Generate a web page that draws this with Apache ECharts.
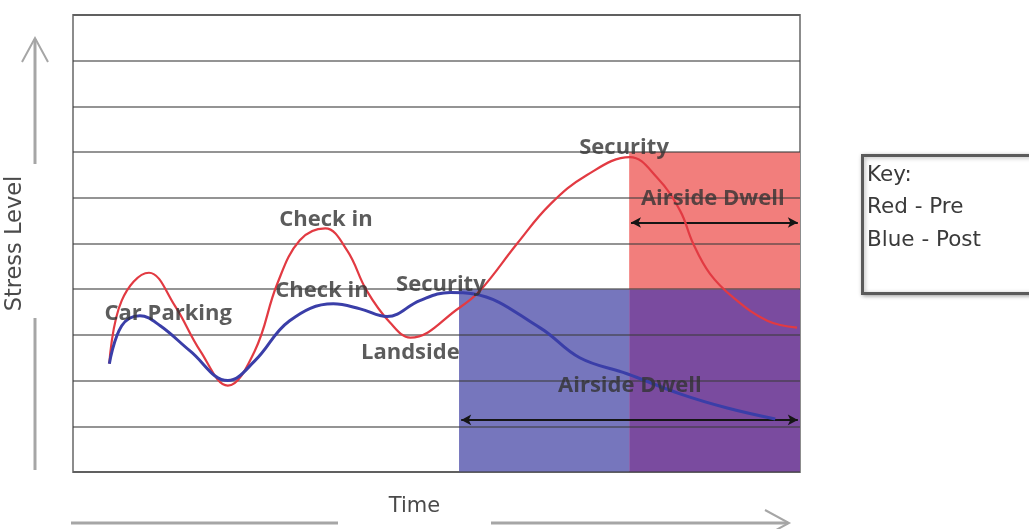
<!DOCTYPE html>
<html><head><meta charset="utf-8">
<script src="https://cdn.jsdelivr.net/npm/echarts@6/dist/echarts.min.js"></script>
<style>html,body{margin:0;padding:0;background:#fff}#c{width:1029px;height:529px}</style>
</head><body><div id="c"></div>
<script>
// Time runs 0..100 across the plot, stress level 0..10
const preCurve = [
  [5.0,2.37],[6.7,3.75],[10.45,4.36],[14.0,3.64],[17.5,2.65],[21.3,1.89],
  [25.0,2.65],[28.1,4.12],[31.2,5.07],[34.7,5.33],[37.7,4.85],[40.4,3.97],
  [43.6,3.27],[46.4,2.94],[53.2,3.6],[56.0,3.97],[61.1,5.0],[65.6,5.85],
  [70.7,6.5],[76.6,6.89],[80.3,6.45],[83.5,5.72],[85.3,5.0],[87.6,4.34],
  [90.8,3.82],[95.5,3.31],[99.6,3.16]
];
const postCurve = [
  [5.0,2.37],[6.7,3.2],[9.2,3.42],[12.0,3.2],[16.1,2.65],[21.3,2.0],
  [25.0,2.43],[29.8,3.31],[35.8,3.68],[39.5,3.57],[43.2,3.4],[47.7,3.75],
  [51.9,3.93],[55.0,3.9],[64.2,3.16],[69.7,2.5],[76.2,2.15],[83.5,1.71],
  [90.0,1.4],[96.6,1.16]
];
// zones: [xStart, xEnd, yLow, yHigh]
const zones = [
  [53.1, 76.5, 0, 4],
  [76.5, 100, 0, 4],
  [76.5, 100, 4, 7]
];
const zoneColors = ['#7676bd', '#7a4b9f', '#f27e7c'];
const annotations = [
  [13.1, 3.46, 'Car Parking'],
  [34.8, 5.52, 'Check in'],
  [34.25, 3.97, 'Check in'],
  [50.6, 4.1, 'Security'],
  [46.4, 2.6, 'Landside'],
  [75.8, 7.1, 'Security'],
  [88.0, 5.97, 'Airside Dwell'],
  [76.6, 1.88, 'Airside Dwell']
];
// dwell arrows: [xStart, xEnd, y]
const dwellArrows = [
  [76.75, 99.7, 5.46],
  [53.4, 99.7, 1.14]
];
const keyLines = ['Key:', 'Red - Pre', 'Blue - Post'];
const axisNames = { y: 'Stress Level', x: 'Time' };

const chart = echarts.init(document.getElementById('c'), null, {renderer: 'canvas'});
const gray = '#a6a6a6';
chart.setOption({
  animation: false,
  backgroundColor: '#ffffff',
  title: {
    text: keyLines.join('\n'),
    left: 862, top: 155,
    padding: [4, 60, 37, 5],
    borderColor: '#5a5a5a', borderWidth: 3,
    backgroundColor: '#fff',
    shadowBlur: 4, shadowColor: 'rgba(0,0,0,0.3)', shadowOffsetX: 1, shadowOffsetY: 1,
    textStyle: { fontFamily: 'DejaVu Sans', fontSize: 21.5, fontWeight: 'normal', color: '#3a3a3a', lineHeight: 32.5 }
  },
  grid: {
    left: 73, right: 229, top: 15, bottom: 57, outerBoundsMode: 'none', containLabel: false,
    show: true, borderColor: '#8c8c8c', borderWidth: 2, backgroundColor: '#fff'
  },
  xAxis: {
    type: 'value', min: 0, max: 100,
    name: axisNames.x, nameLocation: 'middle', nameGap: 24,
    nameTextStyle: { fontFamily: 'DejaVu Sans', fontSize: 21, color: '#4a4a4a', padding: [0, 44, 0, 0] },
    axisLine: { show: false }, axisTick: { show: false }, axisLabel: { show: false },
    splitLine: { show: false }
  },
  yAxis: {
    type: 'value', min: 0, max: 10, interval: 1, z: 3,
    name: axisNames.y, nameLocation: 'middle', nameGap: 46, nameRotate: 90,
    nameTextStyle: { fontFamily: 'DejaVu Sans', fontSize: 22.5, color: '#4a4a4a' },
    axisLine: { show: false }, axisTick: { show: false }, axisLabel: { show: false },
    splitLine: { show: true, lineStyle: { color: 'rgba(60,60,60,0.55)', width: 2 } }
  },
  graphic: [
    { type: 'line', shape: { x1: 35, y1: 164, x2: 35, y2: 39 }, style: { stroke: gray, lineWidth: 3 } },
    { type: 'polyline', shape: { points: [[22, 62], [35, 38], [48, 62]] }, style: { stroke: gray, lineWidth: 2, fill: null } },
    { type: 'line', shape: { x1: 35, y1: 318, x2: 35, y2: 470 }, style: { stroke: gray, lineWidth: 3 } },
    { type: 'line', shape: { x1: 71, y1: 523, x2: 338, y2: 523 }, style: { stroke: gray, lineWidth: 3 } },
    { type: 'line', shape: { x1: 491, y1: 523, x2: 788, y2: 523 }, style: { stroke: gray, lineWidth: 3 } },
    { type: 'polyline', shape: { points: [[765, 510], [789, 523], [765, 536]] }, style: { stroke: gray, lineWidth: 2, fill: null } }
  ],
  series: [
    {
      type: 'custom', z: 1, silent: true,
      encode: { x: [0, 1], y: [2, 3] },
      data: zones,
      renderItem: (params, api) => {
        const p0 = api.coord([api.value(0), api.value(3)]);
        const p1 = api.coord([api.value(1), api.value(2)]);
        return { type: 'rect', shape: { x: p0[0], y: p0[1], width: p1[0] - p0[0], height: p1[1] - p0[1] },
                 style: { fill: zoneColors[params.dataIndex] } };
      }
    },
    {
      name: 'Pre', type: 'line', z: 5, smooth: 0.4, showSymbol: false, symbol: 'none',
      data: preCurve, lineStyle: { color: '#e23a42', width: 2.2 }
    },
    {
      name: 'Post', type: 'line', z: 6, smooth: 0.4, showSymbol: false, symbol: 'none',
      data: postCurve, lineStyle: { color: '#3a3ea8', width: 3 }
    },
    {
      type: 'scatter', z: 8, symbolSize: 0, silent: true,
      data: annotations,
      label: {
        show: true, position: 'inside', formatter: p => p.value[2],
        fontFamily: 'Open Sans', fontSize: 22, fontWeight: 'bold', color: '#333333'
      },
      markLine: {
        silent: true, symbol: ['arrow', 'arrow'], symbolSize: [8, 10],
        label: { show: false },
        lineStyle: { color: '#151515', width: 2, type: 'solid' },
        data: dwellArrows.map(a => [{ coord: [a[0], a[2]] }, { coord: [a[1], a[2]] }])
      }
    }
  ]
});
</script></body></html>
